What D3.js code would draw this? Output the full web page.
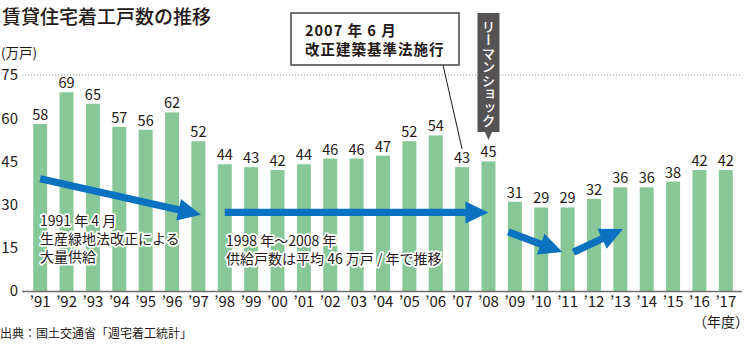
<!DOCTYPE html>
<html>
<head>
<meta charset="utf-8">
<script src="https://cdn.jsdelivr.net/npm/d3@7/dist/d3.min.js"></script>
<style>
  body { margin: 0; background: #fff; }
  svg { display: block; font-family: "Noto Sans CJK JP", "Noto Sans", sans-serif; }
</style>
</head>
<body>
<svg id="chart" width="750" height="352"></svg>
<script>
// データ
const years = d3.range(1991, 2018);
const values = [58, 69, 65, 57, 56, 62, 52, 44, 43, 42, 44, 46, 46, 47, 52, 54, 43, 45, 31, 29, 29, 32, 36, 36, 38, 42, 42];
const yTicks = [0, 15, 30, 45, 60, 75];

// 矢印（年＋オフセット, 値）
const arrows = [
    { from: [1991, 0, 39], to: [1997, 0.1, 26.5] },
    { from: [1998, 0, 27.3], to: [2008, 0, 27.3] },
    { from: [2009, -0.25, 20.5], to: [2011, -0.2, 13.5] },
    { from: [2011, 0.22, 13.5], to: [2013, 0.1, 21.5] }
];

const svg = d3.select('#chart');

const x = d3.scaleBand()
    .domain(years)
    .range([27, 739])
    .paddingInner(0.47)
    .paddingOuter(0.235);

const y = d3.scaleLinear()
    .domain([0, 75])
    .range([291, 75]);

const xc = (yr, dx) => x(yr) + x.bandwidth() / 2 + (dx || 0) * x.step();

// タイトル
svg.append('text')
    .attr('x', 2)
    .attr('y', 24)
    .style('font-size', '19px')
    .style('font-weight', 500)
    .attr('fill', '#231815')
    .text('賃貸住宅着工戸数の推移');

svg.append('text')
    .attr('x', 1)
    .attr('y', 58)
    .style('font-size', '13.5px')
    .attr('fill', '#231815')
    .text('(万戸)');

// 75 の点線
svg.append('line')
    .attr('x1', 22)
    .attr('x2', 742)
    .attr('y1', y(75))
    .attr('y2', y(75))
    .attr('stroke', '#9a9a9a')
    .attr('stroke-width', 1)
    .attr('stroke-dasharray', '1,2');

// Y軸
const yAxis = d3.axisLeft(y).tickValues(yTicks).tickSize(0).tickPadding(0);
svg.append('g')
    .attr('transform', 'translate(18,0)')
    .call(yAxis)
    .call(g => g.select('.domain').remove())
    .call(g => g.selectAll('text')
        .attr('fill', '#231815')
        .style('font-size', '15px')
        .style('font-family', '"Noto Sans CJK JP", sans-serif'));

// 棒
svg.append('g')
    .selectAll('rect')
    .data(values)
    .join('rect')
    .attr('x', (d, i) => x(years[i]))
    .attr('y', d => y(d))
    .attr('width', x.bandwidth())
    .attr('height', d => y(0) - y(d))
    .attr('fill', '#88c898');

// 値ラベル
svg.append('g')
    .selectAll('text')
    .data(values)
    .join('text')
    .attr('x', (d, i) => xc(years[i]))
    .attr('y', d => y(d) - 4)
    .attr('text-anchor', 'middle')
    .style('font-size', '14.5px')
    .attr('fill', '#231815')
    .text(d => d);

// X軸
const xAxis = d3.axisBottom(x)
    .tickSize(0)
    .tickPadding(5)
    .tickFormat(d => '\u2019' + String(d % 100).padStart(2, '0'));
svg.append('g')
    .attr('transform', `translate(0,${y(0)})`)
    .call(xAxis)
    .call(g => g.select('.domain').remove())
    .call(g => g.selectAll('text')
        .attr('fill', '#231815')
        .style('font-size', '15px')
        .style('font-family', '"Noto Sans CJK JP", sans-serif'));

svg.append('line')
    .attr('x1', 22)
    .attr('x2', 742)
    .attr('y1', y(0) + 0.5)
    .attr('y2', y(0) + 0.5)
    .attr('stroke', '#6e6e6e')
    .attr('stroke-width', 1.5);

svg.append('text')
    .attr('x', 749)
    .attr('y', 327)
    .attr('text-anchor', 'end')
    .style('font-size', '14px')
    .attr('fill', '#231815')
    .text('（年度）');

// 矢印
const arrowPath = (p0, p1) => {
    const dx = p1[0] - p0[0], dy = p1[1] - p0[1];
    const len = Math.hypot(dx, dy);
    const ux = dx / len, uy = dy / len;
    const nx = -uy, ny = ux;
    const sw = 3.6, hw = 11, hl = 23;
    const bx = p1[0] - ux * hl, by = p1[1] - uy * hl;
    const pts = [
        [p0[0] + nx * sw, p0[1] + ny * sw],
        [bx + nx * sw, by + ny * sw],
        [bx + nx * hw, by + ny * hw],
        p1,
        [bx - nx * hw, by - ny * hw],
        [bx - nx * sw, by - ny * sw],
        [p0[0] - nx * sw, p0[1] - ny * sw]
    ];
    return 'M' + pts.map(p => p.join(',')).join('L') + 'Z';
};

svg.append('g')
    .selectAll('path')
    .data(arrows)
    .join('path')
    .attr('d', d => arrowPath(
        [xc(d.from[0], d.from[1]), y(d.from[2])],
        [xc(d.to[0], d.to[1]), y(d.to[2])]))
    .attr('fill', '#0a72c0');

// 注記テキスト（白フチ）
const note = (lines, x0, y0, lh) => {
    const t = svg.append('text')
        .attr('x', x0)
        .attr('y', y0)
        .style('font-size', '14px')
        .attr('fill', '#231815')
        .attr('stroke', '#fff')
        .attr('stroke-width', 3.5)
        .attr('stroke-linejoin', 'round')
        .attr('paint-order', 'stroke');
    lines.forEach((l, i) => {
        t.append('tspan').attr('x', x0).attr('y', y0 + i * lh).text(l);
    });
};
note(['1991 年 4 月', '生産緑地法改正による', '大量供給'], 40, 226, 18);
note(['1998 年〜2008 年', '供給戸数は平均 46 万戸 / 年で推移'], 226, 246, 18);

// 2007年6月 ボックス
svg.append('line')
    .attr('x1', 443)
    .attr('y1', 65)
    .attr('x2', xc(2007))
    .attr('y2', y(43) - 18)
    .attr('stroke', '#231815')
    .attr('stroke-width', 1);

svg.append('rect')
    .attr('x', 291)
    .attr('y', 13)
    .attr('width', 168)
    .attr('height', 52)
    .attr('fill', '#fff')
    .attr('stroke', '#444')
    .attr('stroke-width', 1.5);

const box = svg.append('text')
    .style('font-size', '14.5px')
    .style('font-weight', 'bold')
    .style('letter-spacing', '1px')
    .attr('fill', '#231815');
box.append('tspan').attr('x', 305).attr('y', 36).text('2007 年 6 月');
box.append('tspan').attr('x', 305).attr('y', 55).text('改正建築基準法施行');

// リーマンショック
const lx = xc(2008);
svg.append('path')
    .attr('d', `M${lx - 11},13 L${lx + 11},13 L${lx + 11},132 L${lx + 3.5},132 L${lx},140 L${lx - 3.5},132 L${lx - 11},132 Z`)
    .attr('fill', '#555354');

svg.append('text')
    .attr('x', lx)
    .attr('y', 20)
    .style('writing-mode', 'vertical-rl')
    .style('font-size', '13.5px')
    .style('font-weight', 500)
    .attr('fill', '#fff')
    .text('リーマンショック');

// 出典
svg.append('text')
    .attr('x', 0)
    .attr('y', 338)
    .style('font-size', '12px')
    .attr('fill', '#231815')
    .text('出典：国土交通省「週宅着工統計」');
</script>
</body>
</html>
